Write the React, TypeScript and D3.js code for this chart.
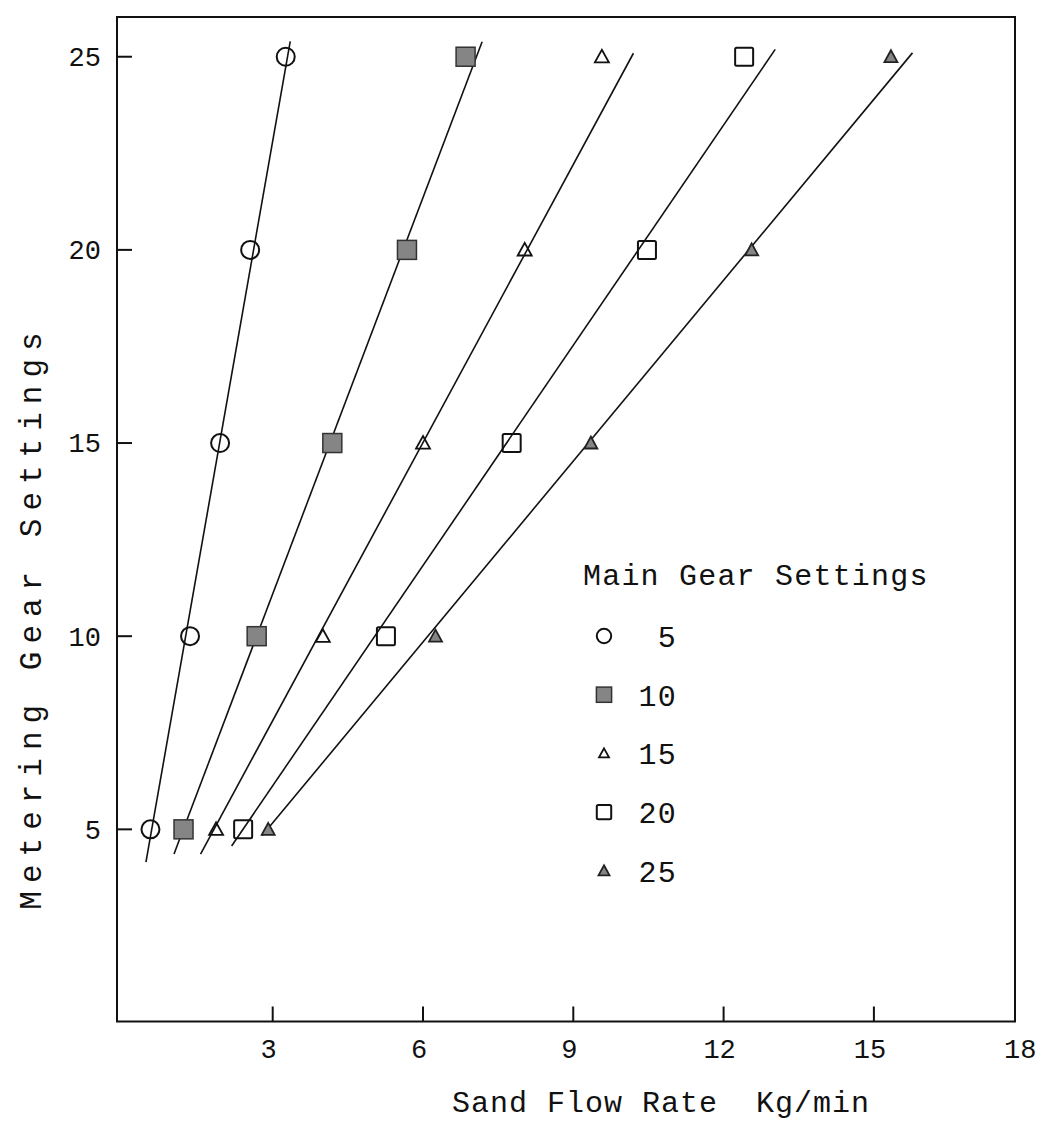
import React from "react";
import * as d3 from "d3";

// Metering gear settings (y) at which sand flow was measured
const meteringSettings = [5, 10, 15, 20, 25];

// Sand flow rate (kg/min) for each main gear setting
const flowMain5 = [0.56, 1.35, 1.95, 2.55, 3.26];
const flowMain10 = [1.22, 2.68, 4.19, 5.68, 6.85];
const flowMain15 = [1.87, 4.0, 6.0, 8.03, 9.57];
const flowMain20 = [2.41, 5.26, 7.77, 10.47, 12.41];
const flowMain25 = [2.91, 6.25, 9.35, 12.56, 15.34];

// Fitted straight lines: [flow, metering] at each end
const fitMain5 = [[0.47, 4.15], [3.35, 25.4]];
const fitMain10 = [[1.03, 4.36], [7.18, 25.39]];
const fitMain15 = [[1.56, 4.36], [10.2, 25.09]];
const fitMain20 = [[2.18, 4.57], [13.03, 25.19]];
const fitMain25 = [[2.79, 4.84], [15.77, 25.1]];

const mainGearLabels = ["5", "10", "15", "20", "25"];
const markerKinds = ["circle", "filledSquare", "triangle", "square", "filledTriangle"];

const xTickValues = [3, 6, 9, 12, 15, 18];
const yTickValues = [5, 10, 15, 20, 25];

const series = [flowMain5, flowMain10, flowMain15, flowMain20, flowMain25];
const fits = [fitMain5, fitMain10, fitMain15, fitMain20, fitMain25];

const W = 1046;
const H = 1142;
const frame = { left: 117, right: 1015, top: 17, bottom: 1021.5 };

const FONT = "'Liberation Mono', 'Courier New', monospace";
const INK = "#111";
const GRAY = "#858585";

function Marker({ kind, cx, cy, small }: { kind: string; cx: number; cy: number; small?: boolean }) {
  const k = small ? 0.8 : 1;
  switch (kind) {
    case "circle": {
      const r = 9 * k;
      return <circle cx={cx} cy={cy} r={r} fill="none" stroke={INK} strokeWidth={2} />;
    }
    case "filledSquare": {
      const s = 19 * k;
      return (
        <rect x={cx - s / 2} y={cy - s / 2} width={s} height={s} fill={GRAY} stroke="#333" strokeWidth={1.5} />
      );
    }
    case "square": {
      const s = 18 * k;
      return (
        <rect x={cx - s / 2} y={cy - s / 2} width={s} height={s} rx={1.5} fill="none" stroke={INK} strokeWidth={2} />
      );
    }
    case "triangle": {
      const s = small ? 10 : 14;
      const p = d3.path();
      p.moveTo(cx, cy - s * 0.5);
      p.lineTo(cx + s * 0.5, cy + s * 0.4);
      p.lineTo(cx - s * 0.5, cy + s * 0.4);
      p.closePath();
      return <path d={p.toString()} fill="none" stroke={INK} strokeWidth={1.8} />;
    }
    case "filledTriangle": {
      const s = small ? 11 : 13;
      const p = d3.path();
      p.moveTo(cx, cy - s * 0.5);
      p.lineTo(cx + s * 0.5, cy + s * 0.42);
      p.lineTo(cx - s * 0.5, cy + s * 0.42);
      p.closePath();
      return <path d={p.toString()} fill={GRAY} stroke="#222" strokeWidth={1.8} />;
    }
    default:
      return null;
  }
}

export default function App() {
  const x = d3.scaleLinear().domain([0, 18]).range([122.4, 1024.2]);
  const y = d3.scaleLinear().domain([0, 26]).range([1022.5, 18.1]);
  const line = d3
    .line<number[]>()
    .x((d) => x(d[0]))
    .y((d) => y(d[1]));

  const legendX = 604;
  const legendLabelRight = 677;
  const legendY0 = 636;
  const legendStep = 58.7;

  return (
    <svg
      width={W}
      height={H}
      viewBox={`0 0 ${W} ${H}`}
      style={{ position: "absolute", left: 0, top: 0, background: "white" }}
      fontFamily={FONT}
    >
      <rect x={0} y={0} width={W} height={H} fill="white" />

      {/* plot frame */}
      <rect
        x={frame.left}
        y={frame.top}
        width={frame.right - frame.left}
        height={frame.bottom - frame.top}
        fill="none"
        stroke={INK}
        strokeWidth={2}
      />

      {/* y ticks and labels */}
      {yTickValues.map((v) => (
        <g key={`y${v}`}>
          <line x1={frame.left} x2={frame.left + 15} y1={y(v)} y2={y(v)} stroke={INK} strokeWidth={2} />
          <text x={101} y={y(v)} dy="0.35em" textAnchor="end" fontSize={27} fill={INK}>
            {v}
          </text>
        </g>
      ))}

      {/* x ticks and labels */}
      {xTickValues.map((v) => (
        <g key={`x${v}`}>
          {x(v) < frame.right - 2 && (
            <line x1={x(v)} x2={x(v)} y1={frame.bottom} y2={frame.bottom - 15} stroke={INK} strokeWidth={2} />
          )}
          <text x={x(v) - 4} y={1049} dy="0.35em" textAnchor="middle" fontSize={27} fill={INK}>
            {v}
          </text>
        </g>
      ))}

      {/* axis titles */}
      <text x={452} y={1112} fontSize={30} letterSpacing={1} fill={INK}>
        Sand Flow Rate{"\u00a0\u00a0"}Kg/min
      </text>
      <text
        transform={`translate(41, 617) rotate(-90)`}
        textAnchor="middle"
        fontSize={31}
        letterSpacing={8}
        fill={INK}
      >
        Metering Gear Settings
      </text>

      {/* fitted lines */}
      {fits.map((f, i) => (
        <path key={`fit${i}`} d={line(f) || ""} fill="none" stroke={INK} strokeWidth={1.6} />
      ))}

      {/* measured points */}
      {series.map((vals, i) =>
        vals.map((v, j) => (
          <Marker key={`m${i}-${j}`} kind={markerKinds[i]} cx={x(v)} cy={y(meteringSettings[j])} />
        ))
      )}

      {/* legend */}
      <text x={583} y={585} fontSize={30} letterSpacing={1.2} fill={INK}>
        Main Gear Settings
      </text>
      {mainGearLabels.map((lab, i) => {
        const cy = legendY0 + i * legendStep;
        return (
          <g key={`lg${lab}`}>
            <Marker kind={markerKinds[i]} cx={legendX} cy={cy} small />
            <text x={legendLabelRight} y={cy} dy="0.36em" textAnchor="end" fontSize={30} letterSpacing={1.2} fill={INK}>
              {lab}
            </text>
          </g>
        );
      })}
    </svg>
  );
}
